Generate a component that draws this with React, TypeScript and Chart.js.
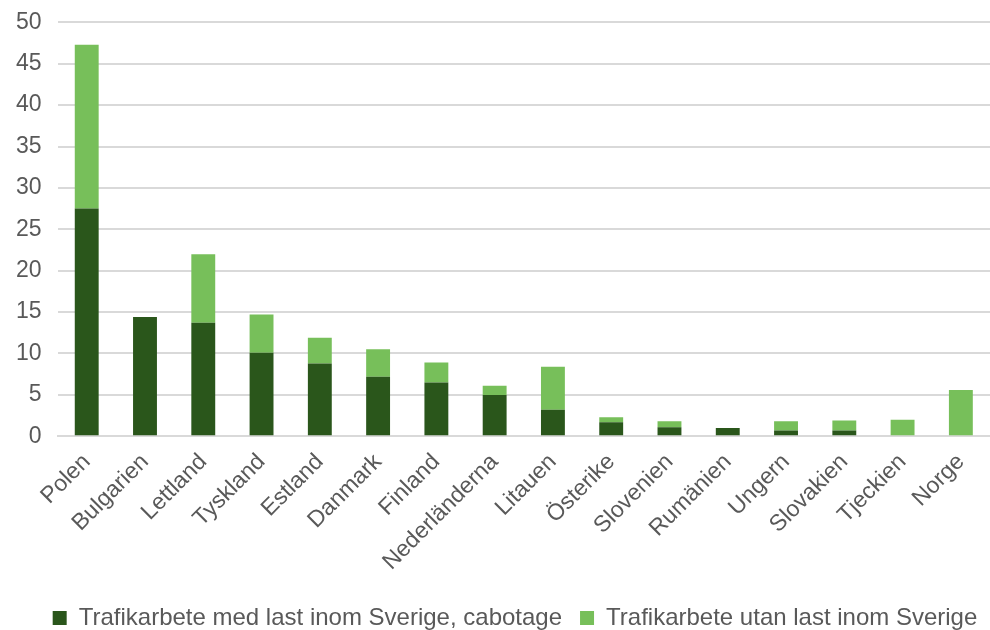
import React, { useEffect, useRef } from "react";
import { Chart, registerables } from "chart.js";

Chart.register(...registerables);

const categories = [
  "Polen", "Bulgarien", "Lettland", "Tyskland", "Estland", "Danmark", "Finland",
  "Nederländerna", "Litauen", "Österike", "Slovenien", "Rumänien", "Ungern",
  "Slovakien", "Tjeckien", "Norge",
];
const seriesNames = [
  "Trafikarbete med last inom Sverige, cabotage",
  "Trafikarbete utan last inom Sverige",
];
const cabotage = [27.5, 14.4, 13.7, 10.1, 8.8, 7.2, 6.5, 5.0, 3.2, 1.7, 1.1, 1.0, 0.7, 0.7, 0, 0];
const utanLast = [19.8, 0, 8.3, 4.6, 3.1, 3.3, 2.4, 1.1, 5.2, 0.6, 0.7, 0, 1.1, 1.2, 2.0, 5.6];
const yTicks = { min: 0, max: 50, step: 5 };

const DARK = "#2A561B";
const LIGHT = "#77BF5A";
const TEXT = "#595959";
const FONT = "'Liberation Sans', Arial, sans-serif";

// nudges the bottom legend to the right, as in the reference
const legendShift = {
  id: "legendShift",
  afterLayout(chart: any) {
    const lg = chart.legend;
    if (lg) {
      lg.left += 20;
      lg.right += 20;
    }
  },
};

export default function App() {
  const ref = useRef<HTMLCanvasElement>(null);
  useEffect(() => {
    document.body.style.margin = "0";
    const chart = new Chart(ref.current!, {
      type: "bar",
      data: {
        labels: categories,
        datasets: [
          { label: seriesNames[0], data: cabotage, backgroundColor: DARK, barPercentage: 0.41, categoryPercentage: 1 },
          { label: seriesNames[1], data: utanLast, backgroundColor: LIGHT, barPercentage: 0.41, categoryPercentage: 1 },
        ],
      },
      plugins: [legendShift],
      options: {
        animation: false,
        responsive: false,
        maintainAspectRatio: false,
        layout: { padding: { left: 0, top: 0, right: 0, bottom: 0 } },
        plugins: {
          tooltip: { enabled: false },
          legend: {
            position: "bottom",
            labels: {
              color: TEXT,
              font: { family: FONT, size: 24 },
              boxWidth: 14,
              boxHeight: 14,
              padding: 18,
            },
          },
        },
        scales: {
          x: {
            stacked: true,
            grid: { display: false, drawTicks: false },
            border: { display: true, color: "#D9D9D9", width: 2 },
            ticks: {
              color: TEXT,
              font: { family: FONT, size: 23, lineHeight: 0.5 },
              maxRotation: 45,
              minRotation: 45,
              padding: 18,
              autoSkip: false,
            },
          },
          y: {
            stacked: true,
            min: yTicks.min,
            max: yTicks.max,
            grid: { color: "#D9D9D9", lineWidth: 2, drawTicks: false },
            border: { display: false },
            ticks: {
              stepSize: yTicks.step,
              color: TEXT,
              font: { family: FONT, size: 23, lineHeight: 0.55 },
              padding: 16,
            },
          },
        },
      },
    });
    return () => chart.destroy();
  }, []);
  return (
    <div style={{ width: 990, height: 630, overflow: "hidden", background: "#fff" }}>
      <canvas ref={ref} width={990} height={640} style={{ width: 990, height: 640, display: "block" }} />
    </div>
  );
}
